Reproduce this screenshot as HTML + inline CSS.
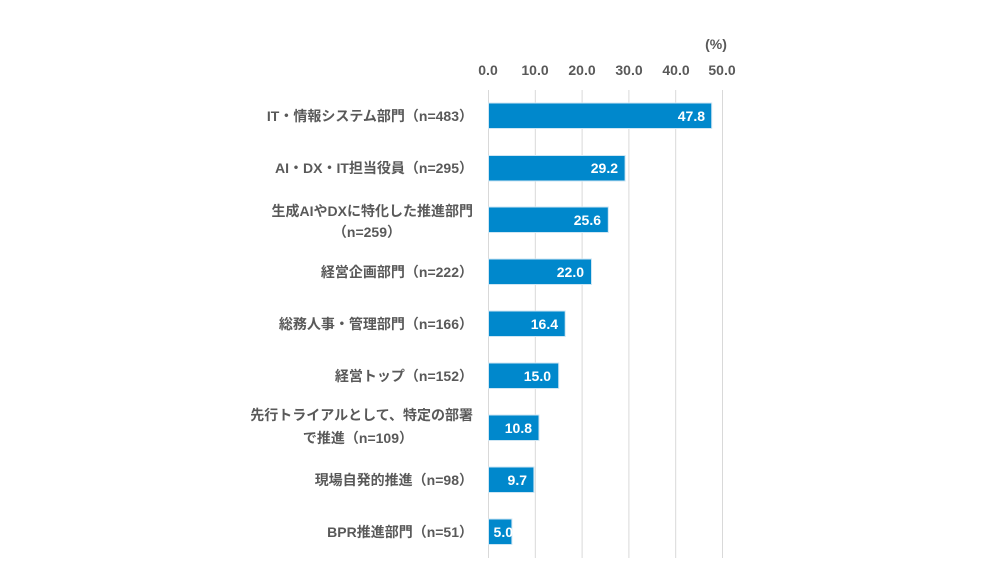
<!DOCTYPE html>
<html><head><meta charset="utf-8"><style>
body{margin:0;background:#fff;}
svg text{font-family:"Liberation Sans","Noto Sans CJK JP",sans-serif;font-weight:bold;}
</style></head><body>
<svg width="992" height="583" xmlns="http://www.w3.org/2000/svg">
<g stroke="#d9d9d9" stroke-width="1">
<line x1="488.5" y1="90" x2="488.5" y2="558"/>
<line x1="535.3" y1="90" x2="535.3" y2="558"/>
<line x1="582.1" y1="90" x2="582.1" y2="558"/>
<line x1="628.9" y1="90" x2="628.9" y2="558"/>
<line x1="675.7" y1="90" x2="675.7" y2="558"/>
<line x1="722.5" y1="90" x2="722.5" y2="558"/>
</g>
<g fill="#595959" font-size="14" text-anchor="middle">
<text x="488" y="75">0.0</text><text x="535" y="75">10.0</text><text x="582" y="75">20.0</text>
<text x="629" y="75">30.0</text><text x="676" y="75">40.0</text><text x="722" y="75">50.0</text>
<text x="716" y="49" font-weight="normal">(%)</text>
</g>
<g fill="#0088cc" stroke="#cfe6f3" stroke-width="1">
<rect x="488.5" y="103" width="223.2" height="25.5"/>
<rect x="488.5" y="155.5" width="136.6" height="25.5"/>
<rect x="488.5" y="207" width="119.8" height="25.5"/>
<rect x="488.5" y="259" width="103" height="25.5"/>
<rect x="488.5" y="311" width="76.7" height="25.5"/>
<rect x="488.5" y="363" width="70.2" height="25.5"/>
<rect x="488.5" y="415" width="50.5" height="25.5"/>
<rect x="488.5" y="467" width="45.4" height="25.5"/>
<rect x="488.5" y="519" width="23.4" height="25.5"/>
</g>
<g fill="#fff" font-size="14" text-anchor="end">
<text x="705" y="121">47.8</text><text x="618" y="173">29.2</text><text x="601" y="225">25.6</text>
<text x="584" y="277">22.0</text><text x="558" y="329">16.4</text><text x="551" y="381">15.0</text>
<text x="532" y="433">10.8</text><text x="527" y="485">9.7</text><text x="513" y="537">5.0</text>
</g>
<g fill="#595959" font-size="14" text-anchor="end">
<text x="473" y="121">IT・情報システム部門（n=483）</text>
<text x="473" y="173">AI・DX・IT担当役員（n=295）</text>
<text x="473" y="216">生成AIやDXに特化した推進部門</text>
<text x="401" y="237">（n=259）</text>
<text x="473" y="277">経営企画部門（n=222）</text>
<text x="473" y="329">総務人事・管理部門（n=166）</text>
<text x="473" y="381">経営トップ（n=152）</text>
<text x="473" y="420">先行トライアルとして、特定の部署</text>
<text x="413" y="443">で推進（n=109）</text>
<text x="473" y="485">現場自発的推進（n=98）</text>
<text x="473" y="537">BPR推進部門（n=51）</text>
</g>
</svg>
</body></html>
